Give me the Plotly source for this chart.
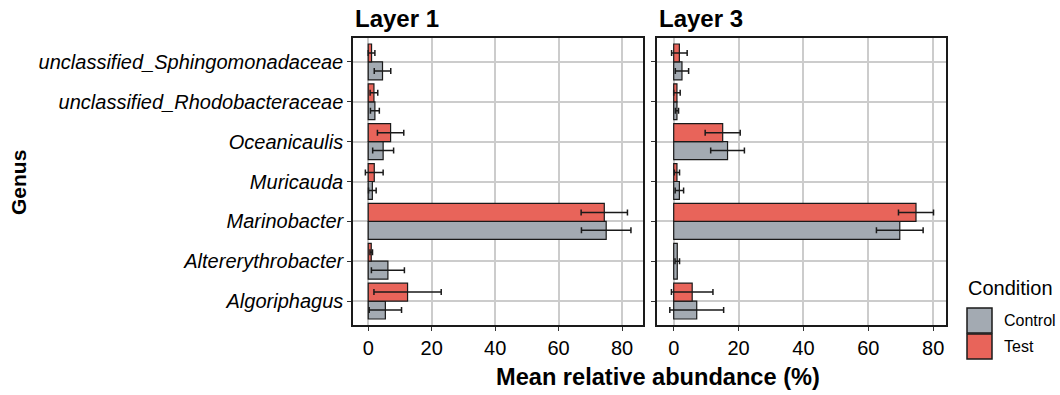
import plotly.graph_objects as go

W, H = 1060, 395

genera = ["Algoriphagus", "Altererythrobacter", "Marinobacter", "Muricauda",
          "Oceanicaulis", "unclassified_Rhodobacteraceae", "unclassified_Sphingomonadaceae"]
tick_labels = ["<i>%s</i>" % g for g in genera]

# Layer 1
l1_control = [5.4, 6.2, 75.0, 1.3, 4.7, 2.1, 4.5]
l1_control_err = [5.1, 5.2, 7.8, 1.2, 3.3, 1.4, 2.6]
l1_test = [12.4, 0.95, 74.4, 1.9, 7.05, 1.8, 1.05]
l1_test_err = [10.6, 0.4, 7.3, 2.8, 4.15, 1.2, 1.05]

# Layer 3 (no Test value for Altererythrobacter)
l3_control = [7.1, 1.1, 69.7, 1.75, 16.6, 1.0, 2.55]
l3_control_err = [8.3, 0.7, 7.2, 1.3, 5.2, 0.5, 2.05]
l3_test = [5.7, None, 74.7, 1.0, 15.1, 1.0, 1.75]
l3_test_err = [6.4, None, 5.4, 0.8, 5.4, 1.0, 2.4]

panel_titles = ["Layer 1", "Layer 3"]
conditions = ["Control", "Test"]
colors = {"Control": "#A3AAB2", "Test": "#E8645A"}
x_ticks = [0, 20, 40, 60, 80]

DODGE = 0.9
HALF = DODGE / 2

fig = go.Figure()

def px_x(p):
    return p / W

def px_y(p):
    return 1 - p / H

panels = [
    ("x", "y", l1_control, l1_control_err, l1_test, l1_test_err),
    ("x2", "y2", l3_control, l3_control_err, l3_test, l3_test_err),
]
for xa, ya, c, ce, t, te in panels:
    for cond, vals, errs, other in (("Control", c, ce, t), ("Test", t, te, c)):
        widths, offsets = [], []
        for v, o in zip(vals, other):
            if o is None:  # only one condition present: bar takes full dodge width
                widths.append(DODGE)
                offsets.append(-HALF)
            else:
                widths.append(HALF)
                offsets.append(-HALF if cond == "Control" else 0.0)
        fig.add_trace(go.Bar(
            y=genera, x=vals, orientation="h", name=cond,
            width=widths, offset=offsets,
            marker=dict(color=colors[cond], line=dict(color="#1a1a1a", width=1.2)),
            error_x=dict(type="data", array=errs, visible=True, color="#1a1a1a",
                         thickness=1.5, width=3),
            xaxis=xa, yaxis=ya, showlegend=False,
        ))

axis_common = dict(
    showline=True, linecolor="#1a1a1a", linewidth=1.5, mirror=True,
    showgrid=True, gridcolor="#CCCCCC", gridwidth=1.5,
    ticks="outside", ticklen=4, tickcolor="#333333", tickwidth=1,
    zeroline=False,
)

fig.update_layout(
    width=W, height=H,
    margin=dict(l=0, r=0, t=0, b=0),
    plot_bgcolor="white", paper_bgcolor="white",
    barmode="overlay",
    font=dict(family="Liberation Sans, Arial, sans-serif", color="black"),
    xaxis=dict(domain=[px_x(353), px_x(643)], range=[-4.8, 86.6],
               tickvals=x_ticks, tickfont=dict(size=20), anchor="y", **axis_common),
    xaxis2=dict(domain=[px_x(657), px_x(946)], range=[-5.15, 83.95],
                tickvals=x_ticks, tickfont=dict(size=20), anchor="y2", **axis_common),
    yaxis=dict(domain=[px_y(325), px_y(38)], range=[-0.6, 6.6],
               categoryorder="array", categoryarray=genera,
               tickvals=genera, ticktext=tick_labels,
               tickfont=dict(size=20), anchor="x", **axis_common),
    yaxis2=dict(domain=[px_y(325), px_y(38)], range=[-0.6, 6.6],
                categoryorder="array", categoryarray=genera,
                showticklabels=False, anchor="x2", **axis_common),
)

annotations = []
for title, xp in zip(panel_titles, (353, 657)):
    annotations.append(dict(text="<b>%s</b>" % title, x=px_x(xp), y=px_y(18),
                            xref="paper", yref="paper", xanchor="left", yanchor="middle",
                            showarrow=False, font=dict(size=24)))
annotations.append(dict(text="<b>Mean relative abundance (%)</b>", x=px_x(658), y=px_y(377),
                        xref="paper", yref="paper", xanchor="center", yanchor="middle",
                        showarrow=False, font=dict(size=23.6)))
annotations.append(dict(text="<b>Genus</b>", x=px_x(18), y=px_y(183), textangle=-90,
                        xref="paper", yref="paper", xanchor="center", yanchor="middle",
                        showarrow=False, font=dict(size=21)))
# legend
annotations.append(dict(text="Condition", x=px_x(966), y=px_y(288),
                        xref="paper", yref="paper", xanchor="left", yanchor="middle",
                        showarrow=False, font=dict(size=20)))
shapes = []
for i, cond in enumerate(conditions):
    y0 = 308 + i * 26
    shapes.append(dict(type="rect", xref="paper", yref="paper",
                       x0=px_x(967), x1=px_x(992), y0=px_y(y0), y1=px_y(y0 + 25),
                       fillcolor=colors[cond], line=dict(color="#1a1a1a", width=1.5)))
    annotations.append(dict(text=cond, x=px_x(1002), y=px_y(y0 + 12.5),
                            xref="paper", yref="paper", xanchor="left", yanchor="middle",
                            showarrow=False, font=dict(size=16)))

fig.update_layout(annotations=annotations, shapes=shapes)
fig.write_html("out.html")
